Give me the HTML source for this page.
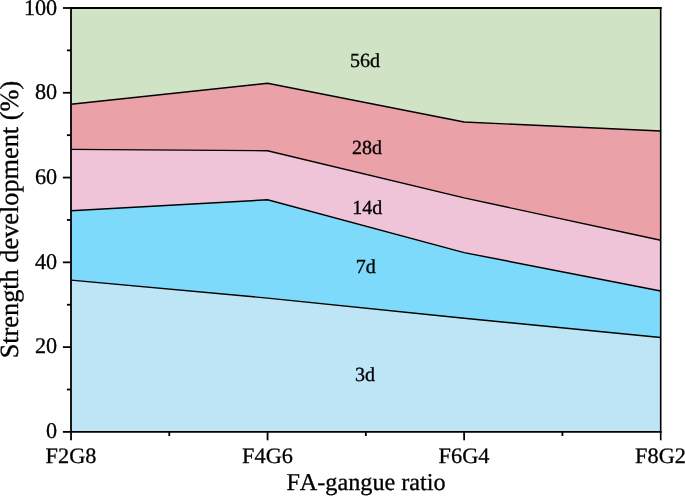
<!DOCTYPE html>
<html>
<head>
<meta charset="utf-8">
<style>
html,body{margin:0;padding:0;background:#fff;}
body{width:685px;height:496px;overflow:hidden;}
svg{display:block;will-change:transform;text-rendering:geometricPrecision;}
text{font-family:"Liberation Serif",serif;fill:#000;stroke:#000;stroke-width:0.3px;font-kerning:none;}
</style>
</head>
<body>
<svg width="685" height="496" viewBox="0 0 685 496">
  <polygon fill="#d0e3c4" points="71.00,8.00 267.57,8.00 464.13,8.00 660.70,8.00 660.70,131.00 464.13,122.00 267.57,83.30 71.00,104.30"/>
  <polygon fill="#eaa1a8" points="71.00,104.30 267.57,83.30 464.13,122.00 660.70,131.00 660.70,240.30 464.13,197.90 267.57,150.70 71.00,149.40"/>
  <polygon fill="#efc4d8" points="71.00,149.40 267.57,150.70 464.13,197.90 660.70,240.30 660.70,291.00 464.13,252.60 267.57,199.80 71.00,210.80"/>
  <polygon fill="#7edafa" points="71.00,210.80 267.57,199.80 464.13,252.60 660.70,291.00 660.70,337.50 464.13,318.20 267.57,298.10 71.00,280.10"/>
  <polygon fill="#bee5f5" points="71.00,280.10 267.57,298.10 464.13,318.20 660.70,337.50 660.70,431.90 464.13,431.90 267.57,431.90 71.00,431.90"/>
  <g fill="none" stroke="#000" stroke-width="1.4">
    <polyline points="71.00,104.30 267.57,83.30 464.13,122.00 660.70,131.00"/>
    <polyline points="71.00,149.40 267.57,150.70 464.13,197.90 660.70,240.30"/>
    <polyline points="71.00,210.80 267.57,199.80 464.13,252.60 660.70,291.00"/>
    <polyline points="71.00,280.10 267.57,298.10 464.13,318.20 660.70,337.50"/>
  </g>
  <g stroke="#000" stroke-width="1.8" stroke-linecap="square">
    <line x1="71.0" y1="8.0" x2="660.7" y2="8.0"/>
    <line x1="71.0" y1="431.9" x2="660.7" y2="431.9"/>
    <line x1="71.0" y1="8.0" x2="71.0" y2="431.9"/>
  </g>
  <line x1="660.7" y1="7.1" x2="660.7" y2="432.79999999999995" stroke="#000" stroke-width="1.6"/>
  <g stroke="#000" stroke-width="1.8">
    <line x1="62.9" y1="431.90" x2="71.0" y2="431.90"/>
    <line x1="62.9" y1="347.12" x2="71.0" y2="347.12"/>
    <line x1="62.9" y1="262.34" x2="71.0" y2="262.34"/>
    <line x1="62.9" y1="177.56" x2="71.0" y2="177.56"/>
    <line x1="62.9" y1="92.78" x2="71.0" y2="92.78"/>
    <line x1="62.9" y1="8.00" x2="71.0" y2="8.00"/>
    <line x1="66.9" y1="389.51" x2="71.0" y2="389.51"/>
    <line x1="66.9" y1="304.73" x2="71.0" y2="304.73"/>
    <line x1="66.9" y1="219.95" x2="71.0" y2="219.95"/>
    <line x1="66.9" y1="135.17" x2="71.0" y2="135.17"/>
    <line x1="66.9" y1="50.39" x2="71.0" y2="50.39"/>
    <line x1="71.00" y1="431.9" x2="71.00" y2="440.3" stroke-width="1.8"/>
    <line x1="267.57" y1="431.9" x2="267.57" y2="440.3" stroke-width="1.8"/>
    <line x1="464.13" y1="431.9" x2="464.13" y2="440.3" stroke-width="1.8"/>
    <line x1="660.70" y1="431.9" x2="660.70" y2="440.3" stroke-width="1.6"/>
    <line x1="169.28" y1="431.9" x2="169.28" y2="436"/>
    <line x1="365.85" y1="431.9" x2="365.85" y2="436"/>
    <line x1="562.42" y1="431.9" x2="562.42" y2="436"/>
  </g>
  <g font-size="22.2" text-anchor="end">
    <text transform="translate(57.2,14.8) scale(1,1.01)">100</text>
    <text transform="translate(57.2,99.2) scale(1,1.01)">80</text>
    <text transform="translate(57.2,184.0) scale(1,1.01)">60</text>
    <text transform="translate(57.2,268.8) scale(1,1.01)">40</text>
    <text transform="translate(57.2,353.4) scale(1,1.01)">20</text>
    <text transform="translate(57.2,438.4) scale(1,1.01)">0</text>
  </g>
  <g font-size="22.3" text-anchor="middle">
    <text transform="translate(71,463.0) scale(1,0.99)">F2G8</text>
    <text transform="translate(267.5,463.0) scale(1,0.99)">F4G6</text>
    <text transform="translate(464,463.0) scale(1,0.99)">F6G4</text>
    <text transform="translate(660.5,463.0) scale(1,0.99)">F8G2</text>
  </g>
  <text x="366" y="490.3" font-size="24.2" text-anchor="middle">FA-gangue ratio</text>
  <text transform="translate(18.1,219.6) rotate(-90)" font-size="26.3" text-anchor="middle">Strength development (%)</text>
  <g font-size="20" text-anchor="middle">
    <text x="364.9" y="66.65">56d</text>
    <text x="366.9" y="153.8">28d</text>
    <text x="367.3" y="213.8">14d</text>
    <text x="365.7" y="272.65">7d</text>
    <text x="364.9" y="380.9">3d</text>
  </g>
</svg>
</body>
</html>
